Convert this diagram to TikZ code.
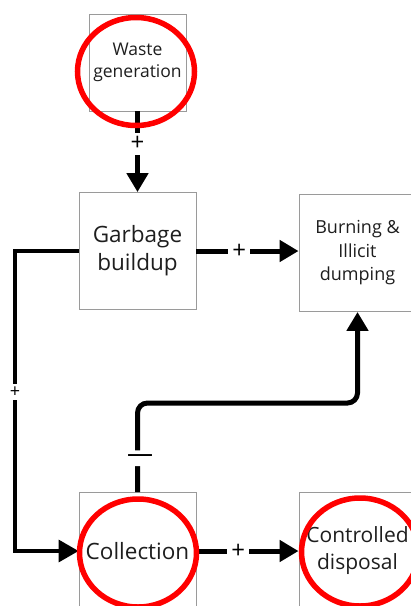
\documentclass[tikz,border=0pt]{standalone}
\usepackage{fontspec}
\setmainfont{Open Sans}
\usetikzlibrary{arrows.meta}
\definecolor{boxgray}{HTML}{9A9A9A}
\definecolor{txt}{HTML}{1E1E1E}
\definecolor{ringred}{HTML}{FF0000}
\tikzset{
  box/.style={draw=boxgray, line width=0.9pt, minimum width=117pt, minimum height=117pt, inner sep=0pt, align=center, text=txt},
  smallbox/.style={box, minimum width=97pt, minimum height=97pt},
  conn/.style={line width=5pt, -{Triangle[length=19pt,width=21pt]}},
  thinconn/.style={line width=3.5pt, -{Triangle[length=20pt,width=22pt]}},
  lbl/.style={fill=white, inner sep=4pt, text=black, font=\fontsize{24}{24}\selectfont},
  ring/.style={draw=ringred, line width=5.5pt}
}
\begin{document}
\begin{tikzpicture}[x=1pt,y=-1pt]
\useasboundingbox (0,0) rectangle (411,606);
\clip (0,0) rectangle (411,606);
\fill[white] (0,0) rectangle (411,606);

\node[smallbox, font=\fontsize{17.5}{22}\selectfont] (waste) at (137.5,62.5) {Waste\\generation};
\node[box, font=\fontsize{22.5}{28}\selectfont] (garbage) at (137.5,251) {Garbage\\buildup};
\node[box, font=\fontsize{18}{23.5}\selectfont] (burning) at (357.5,253) {Burning \&\\Illicit\\dumping};
\node[box, font=\fontsize{22.5}{28}\selectfont] (collection) at (137.5,551) {Collection};
\node[box, font=\fontsize{21}{27}\selectfont] (controlled) at (357.5,551) {Controlled\\disposal};

\coordinate (lt) at (15,251);
\coordinate (lb) at (15,551);
\coordinate (ct) at (137.5,403);
\coordinate (bt) at (357.5,403);

\draw[conn] (waste.south) -- node[lbl, pos=0.4] {+} (garbage.north);
\draw[conn] (garbage.east) -- node[lbl, pos=0.42] {+} (burning.west |- garbage.east);
\draw[conn] (collection.east) -- node[lbl, pos=0.41] {+} (controlled.west);
\draw[thinconn] (garbage.west) -- (lt) -- node[lbl, pos=0.47, inner sep=3pt, font=\fontsize{18}{18}\selectfont] {+} (lb) -- (collection.west);
\draw[conn, rounded corners=10pt] (collection.north) -- node[lbl, pos=0.38, xshift=2.5pt, inner sep=4pt, font=\fontsize{26}{26}\selectfont] {—} (ct) -- (bt) -- (burning.south);

\draw[ring] (136,71.5) ellipse [x radius=58.5pt, y radius=54pt];
\draw[ring] (138,553) ellipse [x radius=58.5pt, y radius=54pt];
\draw[ring] (360,552) ellipse [x radius=58.5pt, y radius=54pt];
\end{tikzpicture}
\end{document}
